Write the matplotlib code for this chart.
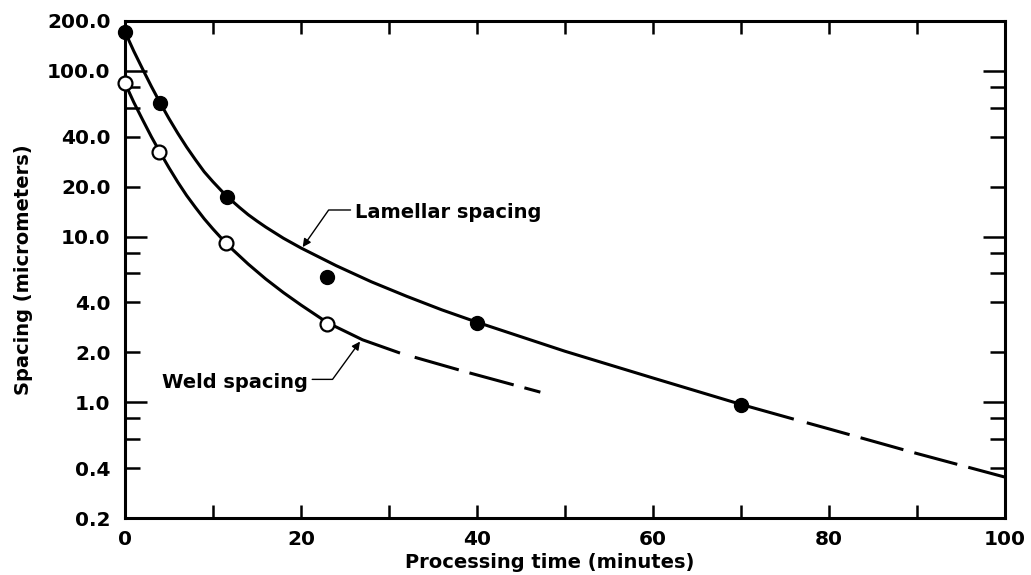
import matplotlib
matplotlib.use('Agg')
import matplotlib.pyplot as plt
from matplotlib.ticker import FixedLocator, FuncFormatter

plt.rcParams['font.family'] = ['DejaVu Sans']
plt.rcParams['font.weight'] = 'bold'
plt.rcParams['lines.scale_dashes'] = False

# ---- measured data points ----
lamellar_time = [0, 4, 11.6, 23, 40, 70]
lamellar_spacing = [172, 64, 17.4, 5.7, 3.0, 0.96]
weld_time = [0, 3.9, 11.5, 23]
weld_spacing = [85, 32.5, 9.1, 2.95]

# ---- fitted curves ----
lamellar_fit_time = [0, 1, 2, 3, 4, 5, 6, 7, 8, 9, 10, 11, 12, 13, 14, 15, 16, 18, 20,
                     24, 28, 32, 36, 40, 50, 60, 70, 76, 80, 90, 100]
lamellar_fit_spacing = [172, 131.5, 102.6, 80.5, 64.0, 51.5, 42.0, 34.7, 29.1, 24.6,
                        21.4, 18.8, 16.7, 15.0, 13.55, 12.4, 11.4, 9.77, 8.53, 6.67,
                        5.33, 4.36, 3.61, 3.04, 2.03, 1.40, 0.97, 0.79, 0.69, 0.49,
                        0.353]
lamellar_solid_end = 76

weld_fit_time = [0, 1, 2, 3, 4, 5, 6, 7, 8, 9, 10, 11.5, 12, 14, 16, 18, 20, 23, 27,
                 31.25, 39, 47.2]
weld_fit_spacing = [84.3, 64.6, 50.7, 40.0, 32.1, 26.0, 21.3, 17.7, 15.0, 12.8, 11.1,
                    9.08, 8.56, 6.82, 5.54, 4.59, 3.86, 3.02, 2.38, 1.98, 1.51, 1.15]
weld_solid_end = 31.25

# ---- ticks ----
x_major = [0, 20, 40, 60, 80, 100]
x_minor = [10, 30, 50, 70, 90]
y_major = [1, 10, 100]
y_minor = [0.2, 0.4, 0.6, 0.8, 2, 4, 6, 8, 20, 40, 60, 80, 200]
y_labeled = [0.2, 0.4, 1, 2, 4, 10, 20, 40, 100, 200]

FS = 14
TFS = 14.5
LW = 2.2

fig = plt.figure(figsize=(10.31, 5.75), dpi=100)
ax = fig.add_axes([125 / 1031, 1 - 518 / 575, 880 / 1031, 497 / 575])
ax.set_yscale('log')
ax.set_xlim(0, 100)
ax.set_ylim(0.2, 200)


def split(t, s, end):
    solid = [(a, b) for a, b in zip(t, s) if a <= end]
    dashed = [(a, b) for a, b in zip(t, s) if a >= end]
    return list(zip(*solid)), list(zip(*dashed))


(ls_t, ls_s), (ld_t, ld_s) = split(lamellar_fit_time, lamellar_fit_spacing, lamellar_solid_end)
(ws_t, ws_s), (wd_t, wd_s) = split(weld_fit_time, weld_fit_spacing, weld_solid_end)

ax.plot(ls_t, ls_s, color='black', lw=LW, solid_capstyle='butt',
        solid_joinstyle='round', zorder=2, clip_on=False)
ax.plot(ld_t, ld_s, color='black', lw=LW, zorder=2, dash_capstyle='butt',
        linestyle=(0, (0.001, 9.7, 32, 8.2, 32, 8.2, 32, 8.2, 32, 8.2)))
ax.plot(ws_t, ws_s, color='black', lw=LW, solid_capstyle='butt',
        solid_joinstyle='round', zorder=2, clip_on=False)
ax.plot(wd_t, wd_s, color='black', lw=LW, zorder=2, dash_capstyle='butt',
        linestyle=(0, (0.001, 11, 33, 8, 33, 8, 33, 8)))

ax.plot(lamellar_time, lamellar_spacing, 'o', color='black', ms=10,
        zorder=4, clip_on=False, linestyle='none')
ax.plot(weld_time, weld_spacing, 'o', markerfacecolor='white', markeredgecolor='black',
        mew=1.6, ms=10, zorder=4, clip_on=False, linestyle='none')

# annotations
ax.annotate('Lamellar spacing', xy=(20.1, 8.5), xytext=(26.1, 13.9),
            ha='left', va='center', fontsize=FS, fontweight='bold',
            arrowprops=dict(arrowstyle='-|>', color='black', lw=1.0,
                            mutation_scale=12, shrinkA=1, shrinkB=1,
                            relpos=(0.5, 0.65),
                            connectionstyle='angle,angleA=0,angleB=55,rad=0'))
ax.annotate('Weld spacing', xy=(26.8, 2.36), xytext=(20.8, 1.32),
            ha='right', va='center', fontsize=FS, fontweight='bold',
            arrowprops=dict(arrowstyle='-|>', color='black', lw=1.0,
                            mutation_scale=12, shrinkA=1, shrinkB=1,
                            relpos=(0.5, 0.65),
                            connectionstyle='angle,angleA=0,angleB=-126,rad=0'))

# ticks
ax.xaxis.set_major_locator(FixedLocator(x_major))
ax.xaxis.set_minor_locator(FixedLocator(x_minor))
ax.yaxis.set_major_locator(FixedLocator(y_major))
ax.yaxis.set_minor_locator(FixedLocator(y_minor))


def yfmt(v, pos):
    for lab in y_labeled:
        if abs(v - lab) < 1e-9 * max(1, lab):
            return f'{lab:.1f}'
    return ''


ax.yaxis.set_major_formatter(FuncFormatter(yfmt))
ax.yaxis.set_minor_formatter(FuncFormatter(yfmt))
ax.xaxis.set_major_formatter(FuncFormatter(lambda v, p: f'{v:g}'))

ax.tick_params(axis='both', which='both', direction='in', top=True, right=True,
               width=1.8, labelsize=TFS, colors='black')
ax.tick_params(axis='x', which='both', length=9.5, pad=8.5)
ax.tick_params(axis='y', which='major', length=16, pad=10.5)
ax.tick_params(axis='y', which='minor', length=11, pad=10.5)
for lab in ax.get_xticklabels() + ax.get_yticklabels(minor=True) + ax.get_yticklabels():
    lab.set_fontweight('bold')

for sp in ax.spines.values():
    sp.set_linewidth(LW)

ax.set_xlabel('Processing time (minutes)', fontsize=FS, fontweight='bold')
ax.set_ylabel('Spacing (micrometers)', fontsize=FS, fontweight='bold')
ax.xaxis.set_label_coords(425 / 880, -45 / 497)
ax.xaxis.label.set_verticalalignment('center')
ax.yaxis.set_label_coords(-102 / 880, 0.5)
ax.yaxis.label.set_verticalalignment('center')

fig.savefig('out.png', dpi=100)
